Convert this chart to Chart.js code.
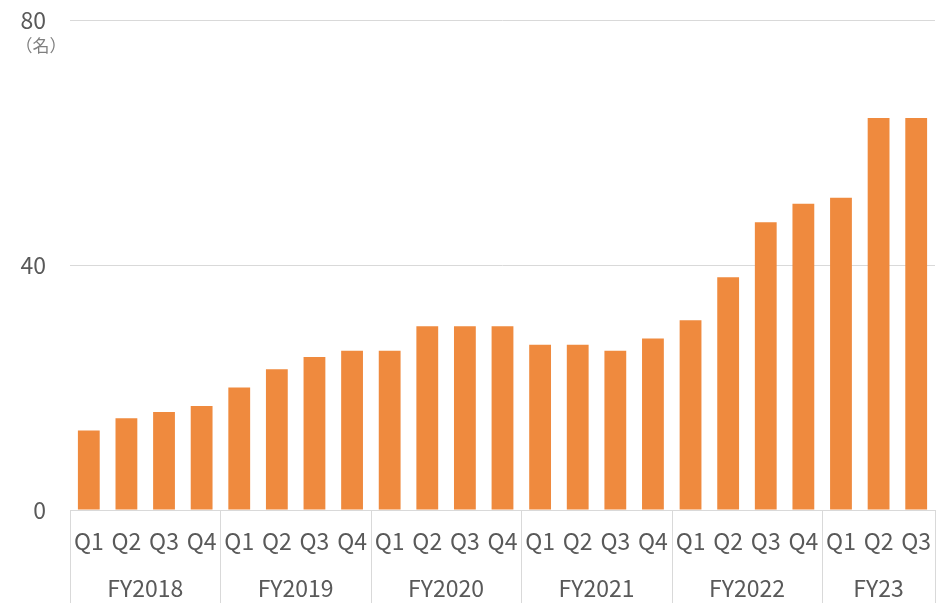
<!DOCTYPE html>
<html>
<head>
<meta charset="utf-8">
<script src="https://cdn.jsdelivr.net/npm/chart.js@4"></script>
<style>
    html, body { margin: 0; padding: 0; background: #fff; }
    #wrap { width: 941px; height: 603px; }
</style>
</head>
<body>
<div id="wrap"><canvas id="chart"></canvas></div>
<script>
const quarters = ['Q1', 'Q2', 'Q3', 'Q4', 'Q1', 'Q2', 'Q3', 'Q4', 'Q1', 'Q2', 'Q3', 'Q4',
    'Q1', 'Q2', 'Q3', 'Q4', 'Q1', 'Q2', 'Q3', 'Q4', 'Q1', 'Q2', 'Q3'];
const fiscalYears = ['FY2018', 'FY2019', 'FY2020', 'FY2021', 'FY2022', 'FY23'];
const yearSizes = [4, 4, 4, 4, 4, 3];
const headcount = [13, 15, 16, 17, 20, 23, 25, 26, 26, 30, 30, 30,
    27, 27, 26, 28, 31, 38, 47, 50, 51, 64, 64];
const yTicks = [0, 40, 80];
const unitLabel = '（名）';

const FONT = '"Noto Sans CJK JP", "Noto Sans", sans-serif';
const TEXT = '#595959';
const LINE = '#d9d9d9';

// 年度グループのラベルと区切り線
const groupAxis = {
    id: 'groupAxis',
    afterDraw(chart) {
        const ctx = chart.ctx;
        const x = chart.scales.x;
        const top = chart.chartArea.bottom;
        const bottom = chart.height;
        const half = (x.getPixelForValue(1) - x.getPixelForValue(0)) / 2;
        ctx.save();
        ctx.strokeStyle = LINE;
        ctx.lineWidth = 1;
        ctx.fillStyle = TEXT;
        ctx.font = '23px ' + FONT;
        ctx.textAlign = 'center';
        ctx.textBaseline = 'middle';
        let start = 0;
        fiscalYears.forEach((fy, i) => {
            const end = start + yearSizes[i] - 1;
            const left = x.getPixelForValue(start) - half;
            const right = x.getPixelForValue(end) + half;
            [left, right].forEach(px => {
                const p = Math.min(Math.round(px) + 0.5, chart.width - 1.5);
                ctx.beginPath();
                ctx.moveTo(p, top);
                ctx.lineTo(p, bottom);
                ctx.stroke();
            });
            ctx.fillText(fy, (left + right) / 2, 588);
            start = end + 1;
        });
        // 単位
        ctx.font = '17px ' + FONT;
        ctx.fillStyle = '#7f7f7f';
        ctx.fillText(unitLabel, 41, 46);
        ctx.restore();
    }
};

const ctx = document.getElementById('chart');
new Chart(ctx, {
    type: 'bar',
    data: {
        labels: quarters,
        datasets: [{
            data: headcount,
            backgroundColor: '#ef8a3e',
            barPercentage: 0.58,
            categoryPercentage: 1
        }]
    },
    options: {
        responsive: true,
        maintainAspectRatio: false,
        animation: false,
        layout: { padding: { top: 20, right: 6, left: 0, bottom: 0 } },
        plugins: {
            legend: { display: false },
            tooltip: { enabled: false }
        },
        scales: {
            x: {
                grid: { display: false, drawTicks: false },
                border: { color: LINE, width: 1 },
                ticks: {
                    color: TEXT,
                    font: { size: 23, family: FONT },
                    padding: 17,
                    maxRotation: 0,
                    autoSkip: false
                },
                afterFit(scale) {
                    scale.height = 93;
                    scale.paddingLeft = 0;
                    scale.paddingRight = 0;
                }
            },
            y: {
                min: 0,
                max: 80,
                afterBuildTicks(scale) {
                    scale.ticks = yTicks.map(v => ({ value: v }));
                },
                grid: { color: LINE, drawTicks: false },
                border: { display: false },
                ticks: {
                    color: TEXT,
                    font: { size: 23, family: FONT },
                    padding: 24
                },
                afterFit(scale) {
                    scale.width = 70;
                    scale.paddingTop = 0;
                    scale.paddingBottom = 0;
                }
            }
        }
    },
    plugins: [groupAxis]
});
</script>
</body>
</html>
